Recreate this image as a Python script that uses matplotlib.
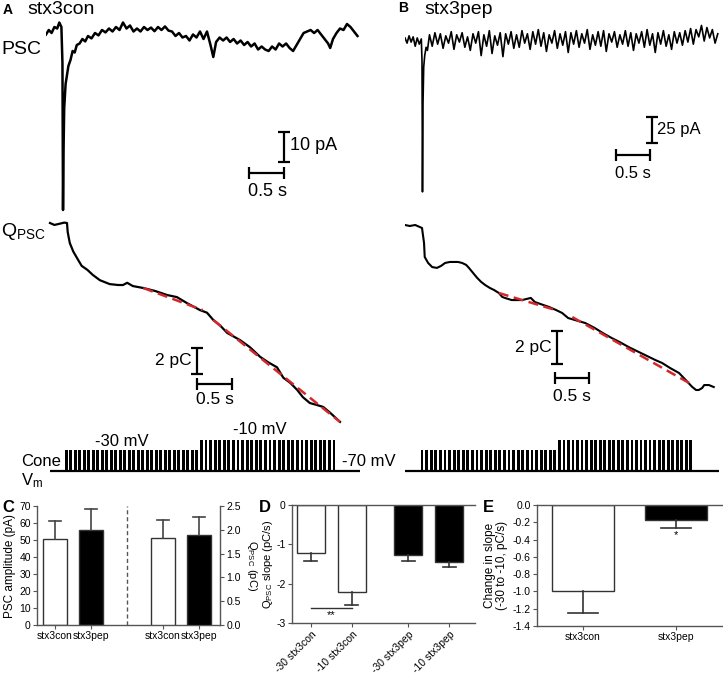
import numpy as np
import matplotlib
matplotlib.use("Agg")
import matplotlib.pyplot as plt

plt.rcParams['font.family'] = ['Liberation Sans', 'DejaVu Sans']
plt.rcParams['axes.unicode_minus'] = False
plt.rcParams['mathtext.default'] = 'regular'

W, H = 723, 676

# ---------------- example traces ----------------
# stx3con PSC : (time s, current pA)
psc_con = [(0.00, -0.5), (0.04, 1.0), (0.08, 0.0), (0.12, 2.0), (0.16, 1.5), (0.19, 3.5),
           (0.22, 2.0), (0.235, -10), (0.243, -59), (0.25, -40), (0.26, -25), (0.28, -17),
           (0.30, -14), (0.32, -11), (0.35, -9), (0.38, -6), (0.41, -6.5), (0.44, -4),
           (0.48, -3.5), (0.52, -2), (0.56, -2.8), (0.60, -1), (0.65, -1.8), (0.70, 0),
           (0.75, -0.8), (0.80, 1), (0.85, 0.2), (0.90, 1.5), (0.95, 0.5), (1.00, 2),
           (1.05, 1), (1.10, 3.5), (1.15, 1.5), (1.20, 2.5), (1.25, 0.5), (1.30, 1.5),
           (1.35, 0.5), (1.40, 2), (1.45, 1), (1.50, 1.8), (1.55, 0.6), (1.60, 2),
           (1.65, 1), (1.70, 2.2), (1.75, 0.8), (1.80, 0.5), (1.85, -1), (1.90, 0),
           (1.95, -1.5), (2.00, -1), (2.05, -2.5), (2.10, -0.5), (2.15, -1.5), (2.20, 0.5),
           (2.25, -2), (2.30, 0.5), (2.35, -4), (2.39, -8), (2.43, -3), (2.48, -1.5),
           (2.53, -2.5), (2.58, -1.5), (2.63, -3), (2.68, -2), (2.73, -3.5), (2.78, -2.5),
           (2.83, -4), (2.88, -3), (2.93, -4.5), (2.98, -3.5), (3.03, -5.5), (3.08, -4.5),
           (3.13, -5.5), (3.18, -6), (3.23, -4.5), (3.28, -5.5), (3.33, -3.5), (3.38, -4.5),
           (3.43, -3.5), (3.48, -5), (3.53, -6), (3.58, -4), (3.63, -2), (3.68, 0),
           (3.73, 0.5), (3.78, 1), (3.83, 0), (3.88, 1), (3.93, -0.5), (3.98, -2),
           (4.03, -3.5), (4.06, -5), (4.10, -2), (4.15, 0), (4.20, 1.5), (4.25, 1),
           (4.30, 3), (4.35, 2), (4.40, 0.5), (4.45, -1)]

# stx3pep PSC : spike region (time s, current pA) then noisy baseline samples
psc_pep_head = [(0.00, 2), (0.03, -3), (0.06, 4), (0.09, -2), (0.12, 3), (0.15, -6),
                (0.18, 2), (0.21, -4), (0.24, 1), (0.25, -20), (0.257, -146), (0.265, -60),
                (0.275, -26), (0.29, -15), (0.31, -7), (0.33, -10)]
psc_pep_tail = [5, -6, 7, -4, 6, -8, 4, -3, 8, -9, 5, -2, 7, -7, 3, -10, 6,
                -3, 8, -15, 5, -6, 9, -13, 4, -5, 7, -16, 6, -4, 8, -8,
                5, -7, 9, -3, 6, -9, 8, -4, 10, -6, 7, -11, 5, -3, 9, -8, 6, -5, 8, -12,
                7, -4, 9, -7, 6, -3, 10, -9, 5, -5, 8, -6, 9, -11, 6, -2, 8, -7, 5, -4,
                9, -6, 7, -10, 6, -3, 8, -7, 10, -5, 6, -12, 7, -4, 9, -6, 5, -9, 8, -3,
                7, -5, 9, -2, 11, -4, 10, 3, 14, -1, 12, 2, 10, -3, 6]
pep_tail_span = (0.36, 4.60)

# integrated charge Q_PSC : (time s, charge pC)
q_con = [(0.057, 0), (0.12, -0.15), (0.2, -0.05), (0.26, 0.03), (0.30, 0), (0.31, -0.7),
         (0.34, -1.54), (0.39, -2.2), (0.46, -2.85), (0.51, -3.3), (0.59, -3.6), (0.67, -4.0),
         (0.77, -4.4), (0.91, -4.7), (1.03, -4.77), (1.10, -4.77), (1.16, -4.6), (1.24, -4.85),
         (1.39, -5.0), (1.56, -5.23), (1.73, -5.54), (1.87, -5.7), (2.01, -6.15), (2.20, -6.7),
         (2.30, -6.9), (2.39, -7.46), (2.49, -7.9), (2.59, -8.46), (2.67, -8.7), (2.77, -9.0),
         (2.91, -9.54), (3.06, -10.3), (3.17, -10.7), (3.30, -11.1), (3.39, -11.9),
         (3.49, -12.3), (3.59, -12.85), (3.67, -13.4), (3.77, -13.85), (3.87, -14.0),
         (3.96, -14.15), (4.06, -14.6), (4.14, -15.0), (4.20, -15.3)]
q_pep = [(0.0, 0), (0.07, -0.06), (0.15, 0), (0.25, -0.18), (0.28, -1.09), (0.29, -1.94),
         (0.34, -2.3), (0.40, -2.55), (0.47, -2.6), (0.53, -2.48), (0.59, -2.3), (0.66, -2.24),
         (0.72, -2.24), (0.78, -2.24), (0.84, -2.3), (0.90, -2.42), (0.94, -2.6), (1.00, -2.9),
         (1.06, -3.2), (1.12, -3.45), (1.18, -3.64), (1.25, -3.82), (1.31, -3.94), (1.38, -4.12),
         (1.43, -4.36), (1.47, -4.42), (1.57, -4.55), (1.72, -4.55), (1.85, -4.42), (1.91, -4.67),
         (2.12, -4.97), (2.22, -5.15), (2.31, -5.33), (2.40, -5.64), (2.50, -5.76), (2.65, -5.94),
         (2.79, -6.24), (2.91, -6.55), (3.04, -6.85), (3.16, -7.1), (3.29, -7.4), (3.44, -7.7),
         (3.59, -8.0), (3.69, -8.2), (3.78, -8.36), (3.90, -8.67), (4.03, -8.97), (4.13, -9.4),
         (4.22, -9.8), (4.28, -10.0), (4.32, -10.0), (4.37, -9.88), (4.40, -9.7), (4.47, -9.7),
         (4.54, -9.82)]

# linear fits to the -30 and -10 mV segments: (t0, q0, t1, q1)
fit_con = [(1.39, -5.0, 2.24, -6.7), (2.39, -7.46, 4.20, -15.3)]
fit_pep = [(1.38, -4.12, 2.21, -5.15), (2.46, -5.58, 4.18, -9.58)]

# cone voltage protocol
V_HOLD = -70
STEP_LEVELS = [-30, -10]
N_PULSES = 30
stim_con = (0.27, 2.20, 4.16)   # start, switch, end (s)
stim_pep = (0.23, 2.25, 4.25)

# ---------------- summary data ----------------
groups = ['stx3con', 'stx3pep']
amp_mean = [50.5, 56.0]
amp_err = [10.5, 12.5]
q_mean = [1.82, 1.90]
q_err = [0.38, 0.36]

slope_labels = ['-30 stx3con', '-10 stx3con', '-30 stx3pep', '-10 stx3pep']
slope_mean = [-1.22, -2.21, -1.28, -1.44]
slope_err = [0.20, 0.32, 0.15, 0.14]

change_mean = [-1.00, -0.17]
change_err = [0.25, 0.095]

# ---------------- figure ----------------
fig = plt.figure(figsize=(W / 100, H / 100), dpi=100)
GREY = '#555555'


def box(x0, y0, x1, y1):
    return [x0 / W, 1 - y1 / H, (x1 - x0) / W, (y1 - y0) / H]


def label(x, y, s, **kw):
    kw.setdefault('va', 'center')
    fig.text(x / W, 1 - y / H, s, **kw)


def trace_axes(x0, y0, x1, y1, t0_px, ref_px, px_s, px_unit, ref_val=0.0):
    # axes whose data scale matches the figure's pixel scale
    ax = fig.add_axes(box(x0, y0, x1, y1))
    ax.set_xlim((x0 - t0_px) / px_s, (x1 - t0_px) / px_s)
    ax.set_ylim(ref_val - (y1 - ref_px) / px_unit, ref_val + (ref_px - y0) / px_unit)
    ax.axis('off')
    return ax


def scalebars(ax, tv, v0, dv, th, yh, txt_v, txt_h, pos_v, pos_h, fs):
    ax.plot([tv, tv], [v0, v0 + dv], 'k-', lw=1.6, marker='_', ms=8, mew=1.6,
            solid_capstyle='butt')
    ax.plot([th, th + 0.5], [yh, yh], 'k-', lw=1.6, marker='|', ms=8, mew=1.6,
            solid_capstyle='butt')
    ax.text(pos_v[0], pos_v[1], txt_v, fontsize=fs, va='center', ha=pos_v[2])
    ax.text(pos_h[0], pos_h[1], txt_h, fontsize=fs, va='center', ha='center')


# PSC traces
axA = trace_axes(46, 15, 362, 214, 46, 33, 70, 3.0)
t, i = np.array(psc_con).T
axA.plot(t, i, color='k', lw=1.8)
scalebars(axA, 3.40, -43, 10, 2.90, -46.6, '10 pA', '0.5 s',
          (3.49, -37.5, 'left'), (3.16, -53), 13)

axB = trace_axes(405, 15, 722, 196, 405, 40, 68, 1.04)
th, ih = np.array(psc_pep_head).T
tt = np.linspace(pep_tail_span[0], pep_tail_span[1], len(psc_pep_tail))
axB.plot(np.r_[th, tt], np.r_[ih, psc_pep_tail], color='k', lw=1.2)
scalebars(axB, 3.63, -99, 25, 3.10, -110.6, '25 pA', '0.5 s',
          (3.70, -86.5, 'left'), (3.35, -128), 12)

# charge traces
FIT_RED = '#d3282b'
axQA = trace_axes(46, 212, 362, 428, 46, 223, 70, 13)
t, q = np.array(q_con).T
axQA.plot(t, q, color='k', lw=1.6)
for t0, q0, t1, q1 in fit_con:
    axQA.plot([t0, t1], [q0, q1], color=FIT_RED, lw=1.8, dashes=(4, 2.2))
scalebars(axQA, 2.16, -11.6, 2, 2.16, -12.4, '2 pC', '0.5 s',
          (2.08, -10.6, 'right'), (2.41, -13.6), 12.5)

axQB = trace_axes(405, 212, 722, 428, 405, 225, 68, 16.5)
t, q = np.array(q_pep).T
axQB.plot(t, q, color='k', lw=1.5)
for t0, q0, t1, q1 in fit_pep:
    axQB.plot([t0, t1], [q0, q1], color=FIT_RED, lw=1.8, dashes=(4, 2.2))
scalebars(axQB, 2.24, -8.42, 2, 2.21, -9.27, '2 pC', '0.5 s',
          (2.16, -7.42, 'right'), (2.46, -10.4), 12.5)


# voltage protocol
def draw_stim(ax, stim, base_span):
    start, switch, end = stim
    ax.plot(base_span, [V_HOLD, V_HOLD], color='k', lw=1.6, solid_capstyle='butt')
    for (a, b), lev in zip([(start, switch), (switch, end)], STEP_LEVELS):
        onsets = np.linspace(a, b, N_PULSES, endpoint=False)
        w = 0.62 * (b - a) / N_PULSES
        ax.bar(onsets, lev - V_HOLD, bottom=V_HOLD, width=w, align='edge',
               color='k', lw=0)


axSA = trace_axes(46, 425, 362, 492, 46, 471, 70, 0.52, V_HOLD)
draw_stim(axSA, stim_con, (0.06, 4.49))
axSB = trace_axes(405, 425, 722, 492, 405, 471, 68, 0.52, V_HOLD)
draw_stim(axSB, stim_pep, (0.0, 4.62))

# panel text, top half
label(3, 10, 'A', fontsize=10, fontweight='bold')
label(27, 9, 'stx3con', fontsize=14)
label(398, 8, 'B', fontsize=10, fontweight='bold')
label(424, 9, 'stx3pep', fontsize=14)
label(1, 50, 'PSC', fontsize=14)
label(1, 232, r'Q$_{PSC}$', fontsize=14)
label(122, 442, '-30 mV', fontsize=12, ha='center')
label(260, 430, '-10 mV', fontsize=12, ha='center')
label(342, 461, '-70 mV', fontsize=12)
label(21, 461, 'Cone', fontsize=12)
label(21, 481, r'V$_m$', fontsize=12)


# ---------------- bar charts ----------------
def style(ax, spines):
    for k, s in ax.spines.items():
        s.set_visible(k in spines)
        s.set_color(GREY)
        s.set_linewidth(1.0)
    ax.tick_params(length=3, width=0.8, color=GREY, labelsize=7.5, pad=1.5)


def err(ax, xs, means, errs, cw, color):
    for x, m, e in zip(xs, means, errs):
        end = m + e if m >= 0 else m - e
        ax.plot([x, x], [m, end], color=color, lw=1.2, zorder=3)
        ax.plot([x - cw, x + cw], [end, end], color=color, lw=1.2, zorder=3)


BAR_COLORS = ['white', 'black']

# C
axC = fig.add_axes(box(37, 506, 220, 625))
posL, posR = [0, 1], [3, 4]
axC.bar(posL, amp_mean, width=0.67, color=BAR_COLORS, edgecolor='#333333', lw=1)
err(axC, posL, amp_mean, amp_err, 0.17, '#444444')
axC.set_xlim(-0.5, 4.58)
axC.set_ylim(0, 70)
axC.set_yticks(range(0, 71, 10))
axC.set_xticks(posL + posR)
axC.set_xticklabels(groups + groups, fontsize=8.5)
axC.axvline(2, color=GREY, lw=1, ls=(0, (3, 2)))
axC.set_ylabel('PSC amplitude (pA)', fontsize=8.5, labelpad=2)
style(axC, ['left', 'bottom'])
axC2 = axC.twinx()
axC2.bar(posR, q_mean, width=0.67, color=BAR_COLORS, edgecolor='#333333', lw=1)
err(axC2, posR, q_mean, q_err, 0.17, '#444444')
axC2.set_ylim(0, 2.5)
axC2.set_yticks(np.arange(0, 2.51, 0.5))
axC2.set_yticklabels(['%.1f' % v for v in np.arange(0, 2.51, 0.5)])
axC2.set_ylabel(r'Q$_{PSC}$ (pC)', fontsize=8, rotation=270, va='bottom', labelpad=3)
style(axC2, ['right'])

# D
axD = fig.add_axes(box(292, 505, 475, 623))
posD = [0, 1, 2.37, 3.37]
axD.bar(posD, slope_mean, width=0.68, color=['white', 'white', 'black', 'black'],
        edgecolor='#333333', lw=1)
err(axD, posD, slope_mean, slope_err, 0.16, '#333333')
axD.set_xlim(-0.46, 4.0)
axD.set_ylim(-3, 0)
axD.set_yticks([0, -1, -2, -3])
axD.set_xticks(posD)
axD.set_xticklabels(slope_labels, rotation=45, ha='right', rotation_mode='anchor',
                    fontsize=6.5)
axD.plot([0, 1], [-2.62, -2.62], color='#333333', lw=1)
axD.text(0.5, -2.8, '**', ha='center', va='center', fontsize=8)
axD.set_ylabel(r'Q$_{PSC}$ slope (pC/s)', fontsize=8, labelpad=1)
style(axD, ['left', 'bottom', 'top'])

# E
axE = fig.add_axes(box(537, 505, 722, 626))
posE = [0, 1]
axE.bar(posE, change_mean, width=0.67, color=BAR_COLORS, edgecolor='#333333', lw=1)
err(axE, posE, change_mean, change_err, 0.16, '#333333')
axE.set_xlim(-0.495, 1.495)
axE.set_ylim(-1.4, 0)
ticksE = np.arange(0, -1.41, -0.2)
axE.set_yticks(ticksE)
axE.set_yticklabels(['%.1f' % abs(v) if v == 0 else '%.1f' % v for v in ticksE])
axE.set_xticks(posE)
axE.set_xticklabels(groups, fontsize=8.5)
axE.text(1, -0.35, '*', ha='center', va='center', fontsize=8)
axE.set_ylabel('Change in slope\n(-30 to -10, pC/s)', fontsize=8.5, labelpad=3,
               linespacing=1.1)
style(axE, ['left', 'bottom', 'top'])

label(2, 507, 'C', fontsize=12, fontweight='bold')
label(259, 507, 'D', fontsize=12, fontweight='bold')
label(483, 507, 'E', fontsize=12, fontweight='bold')

fig.savefig('out.png', dpi=100)
